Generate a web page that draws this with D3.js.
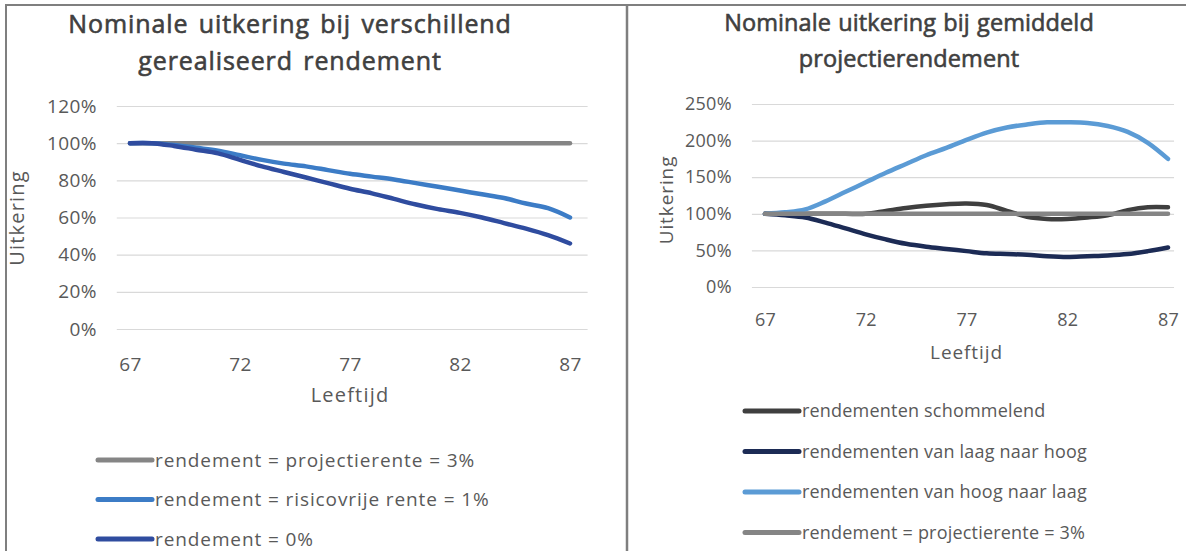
<!DOCTYPE html>
<html><head><meta charset="utf-8">
<script src="https://cdn.jsdelivr.net/npm/d3@7"></script>
<style>
body{margin:0;background:#fff;}
svg{display:block;font-family:"Open Sans",sans-serif;}
</style></head>
<body><svg id="c" width="1186" height="551"></svg>
<script>
// ---- data ----
const ages = d3.range(67, 88);
const ageTicks = [67, 72, 77, 82, 87];

// left chart
const leftTitle = ["Nominale uitkering bij verschillend", "gerealiseerd rendement"];
const leftYTicks = [0, 20, 40, 60, 80, 100, 120];
const leftNames = ["rendement = projectierente = 3%", "rendement = risicovrije rente = 1%", "rendement = 0%"];
const leftColors = ["#858585", "#3c7cc6", "#2f4c9f"];
const left3 = [100,100,100,100,100,100,100,100,100,100,100,100,100,100,100,100,100,100,100,100,100];
const left1 = [100,100,99,97.5,96,93.5,91,89,87.5,85.5,83.5,82,80.5,78.5,76.5,74.5,72.5,70.5,67.5,65,60];
const left0 = [100,100,98.5,96.5,94.5,91,87.5,84.5,81.5,78.5,75.5,73,70,67,64.5,62.5,60,57,54,50.5,46];

// right chart
const rightTitle = ["Nominale uitkering bij gemiddeld", "projectierendement"];
const rightYTicks = [0, 50, 100, 150, 200, 250];
const rightNames = ["rendementen schommelend", "rendementen van laag naar hoog", "rendementen van hoog naar laag", "rendement = projectierente = 3%"];
const rightColors = ["#3f3f3f", "#1c2b55", "#5b9bd5", "#858585"];
const rightSchommel = [100,100,100,100,100,100,104,108,111,113,114,112,104,96,93,93,95,98,105,109,109];
const rightLaagHoog = [100,98,95,88,80,72,65,59,55,52,49,46,45,44,42,41,42,43,45,49,54];
const rightHoogLaag = [100,102,106,117,130,143,156,168,180,190,201,211,218,222,225,225,224,220,212,197,175];
const right3 = [100,100,100,100,100,100,100,100,100,100,100,100,100,100,100,100,100,100,100,100,100];

const svg = d3.select("#c");
const textCol = "#595959";

// frame
svg.append("line").attr("x1",5).attr("x2",1186).attr("y1",5).attr("y2",5).attr("stroke","#7f7f7f").attr("stroke-width",2);
svg.append("line").attr("x1",6).attr("x2",6).attr("y1",4).attr("y2",551).attr("stroke","#7f7f7f").attr("stroke-width",2);
svg.append("line").attr("x1",627).attr("x2",627).attr("y1",4).attr("y2",551).attr("stroke","#7f7f7f").attr("stroke-width",2.5);

function chart(o){
  const g = svg.append("g");
  // title
  o.title.forEach((t,i)=>{
    g.append("text").attr("x",o.titleX).attr("y",o.titleY+i*o.titleDy)
      .attr("text-anchor","middle").attr("font-size",o.titleFs).attr("font-weight",400)
      .attr("letter-spacing",o.titleLs).attr("word-spacing",o.titleWs)
      .attr("fill","#404040").attr("stroke","#404040").attr("stroke-width",0.6).text(t);
  });
  const x = d3.scaleLinear().domain([67,87]).range(o.xr);
  const y = d3.scaleLinear().domain(o.yd).range(o.yr);
  // gridlines
  const yAxis = d3.axisLeft(y).tickValues(o.yTicks).tickFormat(d=>d+"%")
     .tickSize(-(x(o.gx[1])-x(o.gx[0]))).tickPadding(20);
  const ya = g.append("g").attr("transform",`translate(${x(o.gx[0])},0)`).call(yAxis);
  ya.select(".domain").remove();
  ya.selectAll(".tick line").attr("stroke","#d9d9d9").attr("stroke-width",1.2);
  ya.selectAll(".tick text").attr("font-size",o.tickFs).attr("letter-spacing",o.tickLs).attr("fill",textCol).attr("font-family","Open Sans");
  // x axis labels
  const xAxis = d3.axisBottom(x).tickValues(ageTicks).tickFormat(d3.format("d")).tickSize(0).tickPadding(o.xPad);
  const xa = g.append("g").attr("transform",`translate(0,${y(0)})`).call(xAxis);
  xa.select(".domain").remove();
  xa.selectAll(".tick text").attr("font-size",o.tickFs).attr("letter-spacing",o.tickLs).attr("fill",textCol).attr("font-family","Open Sans");
  // axis titles
  g.append("text").attr("x",(o.xr[0]+o.xr[1])/2).attr("y",o.xtY).attr("text-anchor","middle")
    .attr("font-size",o.axFs).attr("letter-spacing",o.axLs).attr("fill",textCol).text("Leeftijd");
  g.append("text").attr("transform",`translate(${o.ytX},${o.ytY}) rotate(-90)`).attr("text-anchor","middle")
    .attr("font-size",o.axFs).attr("letter-spacing",o.axLs).attr("fill",textCol).text("Uitkering");
  // lines
  const line = d3.line().x((d,i)=>x(ages[i])).y(d=>y(d)).curve(d3.curveCatmullRom.alpha(0.5));
  o.series.forEach((s,i)=>{
    g.append("path").attr("d",line(s)).attr("fill","none").attr("stroke",o.colors[i])
      .attr("stroke-width",4.5).attr("stroke-linecap","round").attr("stroke-linejoin","round");
  });
  // legend
  o.names.forEach((n,i)=>{
    const ly = o.legY + i*o.legDy;
    g.append("line").attr("x1",o.legX).attr("x2",o.legX+54).attr("y1",ly).attr("y2",ly)
      .attr("stroke",o.colors[i]).attr("stroke-width",5).attr("stroke-linecap","round");
    g.append("text").attr("x",o.legX+57).attr("y",ly).attr("dy","0.35em")
      .attr("font-size",o.legFs).attr("letter-spacing",o.legLs).attr("fill",textCol).text(n);
  });
}

chart({
  title:leftTitle, titleX:290, titleY:33, titleDy:37, titleFs:25, titleLs:0.9, titleWs:3,
  xr:[130,570], gx:[66.4,87.8], yd:[0,120], yr:[329,106], yTicks:leftYTicks, xPad:29,
  tickFs:19, tickLs:0.4, axFs:20, axLs:1.2, legFs:19, legLs:0.9,
  xtY:402, ytX:24, ytY:218,
  series:[left3,left1,left0], colors:leftColors, names:leftNames,
  legX:98, legY:460, legDy:39.5
});
chart({
  title:rightTitle, titleX:909, titleY:31, titleDy:36, titleFs:23.5, titleLs:0.1, titleWs:1,
  xr:[765,1168], gx:[66.35,87.3], yd:[0,250], yr:[287,104], yTicks:rightYTicks, xPad:26,
  tickFs:18, tickLs:0.3, axFs:19, axLs:0.9, legFs:18, legLs:0.2,
  xtY:359, ytX:673, ytY:200,
  series:[rightSchommel,rightLaagHoog,rightHoogLaag,right3], colors:rightColors, names:rightNames,
  legX:745, legY:411, legDy:40.5
});
</script></body></html>
